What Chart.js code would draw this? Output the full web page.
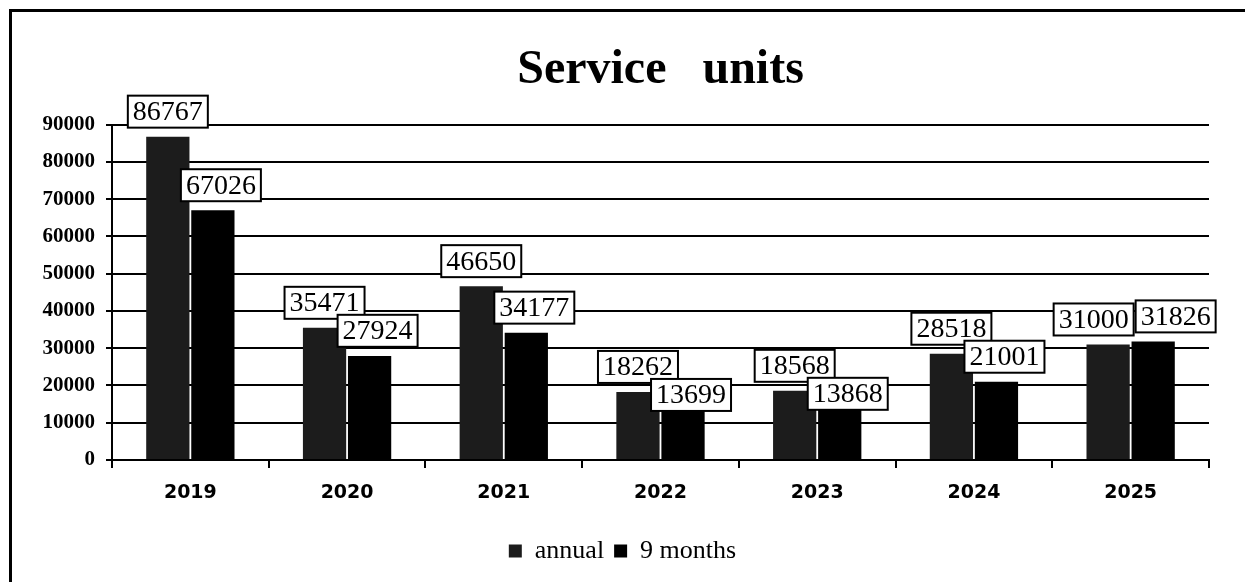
<!DOCTYPE html>
<html lang="en">
<head>
    <meta charset="UTF-8">
    <title>Service units</title>
    <script src="https://cdn.jsdelivr.net/npm/chart.js"></script>
    <style>
        body { margin: 0; background: #fff; }
    </style>
</head>
<body>
    <canvas id="serviceChart" width="1245" height="582"></canvas>

    <script>
        const years = ['2019', '2020', '2021', '2022', '2023', '2024', '2025'];
        const annual = [86767, 35471, 46650, 18262, 18568, 28518, 31000];
        const nineMonths = [67026, 27924, 34177, 13699, 13868, 21001, 31826];
        const yMin = 0, yMax = 90000, yStep = 10000;

        // boxed value labels above the bars (Excel-like data labels)
        const valueBoxes = {
            id: 'valueBoxes',
            afterDatasetsDraw(chart) {
                const ctx = chart.ctx;
                const barsA = chart.getDatasetMeta(0).data;
                const barsB = chart.getDatasetMeta(1).data;
                ctx.save();
                ctx.font = '28px "Liberation Serif"';
                const makeBox = (bar, value, dx) => {
                    const w = ctx.measureText(String(value)).width + 10;
                    const h = 32;
                    return { x: bar.x + dx - w / 2, y: bar.y - 9 - h, w: w, h: h, text: String(value) };
                };
                const drawBox = b => {
                    ctx.fillStyle = '#fff';
                    ctx.fillRect(b.x, b.y, b.w, b.h);
                    ctx.strokeStyle = '#000';
                    ctx.lineWidth = 2;
                    ctx.strokeRect(b.x, b.y, b.w, b.h);
                    ctx.fillStyle = '#000';
                    ctx.textAlign = 'center';
                    ctx.textBaseline = 'middle';
                    ctx.fillText(b.text, b.x + b.w / 2, b.y + b.h / 2 + 1);
                };
                years.forEach((y, i) => {
                    const p = makeBox(barsA[i], annual[i], 0);
                    const q = makeBox(barsB[i], nineMonths[i], 8);
                    const overlap = q.x < p.x + p.w && q.y < p.y + p.h && q.y + q.h > p.y;
                    if (overlap) {
                        if (barsB[i].y - barsA[i].y > 12) {
                            q.y = p.y + p.h - 4;
                        } else {
                            const over = p.x + p.w - q.x + 2;
                            p.x -= over / 2;
                            q.x += over / 2;
                        }
                    }
                    drawBox(p);
                    drawBox(q);
                });
                ctx.restore();
            }
        };

        // white page and the frame lines at top and left
        const frame = {
            id: 'frame',
            beforeDraw(chart) {
                const ctx = chart.ctx;
                ctx.save();
                ctx.fillStyle = '#fff';
                ctx.fillRect(0, 0, chart.width, chart.height);
                ctx.restore();
            },
            afterDraw(chart) {
                const ctx = chart.ctx;
                ctx.save();
                ctx.strokeStyle = '#000';
                ctx.lineWidth = 3;
                ctx.beginPath();
                ctx.moveTo(9, 10.5);
                ctx.lineTo(chart.width, 10.5);
                ctx.moveTo(10.5, 9);
                ctx.lineTo(10.5, chart.height);
                ctx.stroke();
                ctx.restore();
            }
        };

        const ctx = document.getElementById('serviceChart').getContext('2d');
        const serviceChart = new Chart(ctx, {
            type: 'bar',
            data: {
                labels: years,
                datasets: [{
                    label: 'annual',
                    data: annual,
                    backgroundColor: '#1c1c1c',
                    categoryPercentage: 0.575,
                    barPercentage: 0.96
                }, {
                    label: '9 months',
                    data: nineMonths,
                    backgroundColor: '#000',
                    categoryPercentage: 0.575,
                    barPercentage: 0.96
                }]
            },
            options: {
                responsive: false,
                animation: false,
                layout: { padding: { left: 36, right: 36, top: 0, bottom: 8 } },
                plugins: {
                    title: {
                        display: true,
                        text: 'Service   units',
                        fullSize: false,
                        color: '#000',
                        font: { family: 'Liberation Serif', size: 48, weight: 'bold' },
                        padding: { top: 42, bottom: 25 }
                    },
                    legend: {
                        position: 'bottom',
                        labels: {
                            color: '#000',
                            font: { family: 'Liberation Serif', size: 26 },
                            boxWidth: 13,
                            boxHeight: 13,
                            padding: 10
                        }
                    },
                    tooltip: { enabled: false }
                },
                scales: {
                    x: {
                        grid: { drawOnChartArea: false, drawTicks: true, tickLength: 8, color: '#000', lineWidth: 2 },
                        border: { display: true, color: '#000', width: 2 },
                        ticks: { color: '#000', font: { family: 'DejaVu Sans', size: 19, weight: 'bold' }, padding: 14 },
                        afterFit(scale) { scale.height = 68; }
                    },
                    y: {
                        min: yMin,
                        max: yMax,
                        ticks: {
                            stepSize: yStep,
                            callback: v => String(v),
                            color: '#000',
                            font: { family: 'Liberation Serif', size: 21, weight: 'bold' },
                            padding: 11
                        },
                        grid: { color: '#000', lineWidth: 2, tickLength: 6 },
                        border: { color: '#000', width: 2 },
                        afterFit(scale) { scale.width = 76; }
                    }
                }
            },
            plugins: [frame, valueBoxes]
        });
    </script>
</body>
</html>
